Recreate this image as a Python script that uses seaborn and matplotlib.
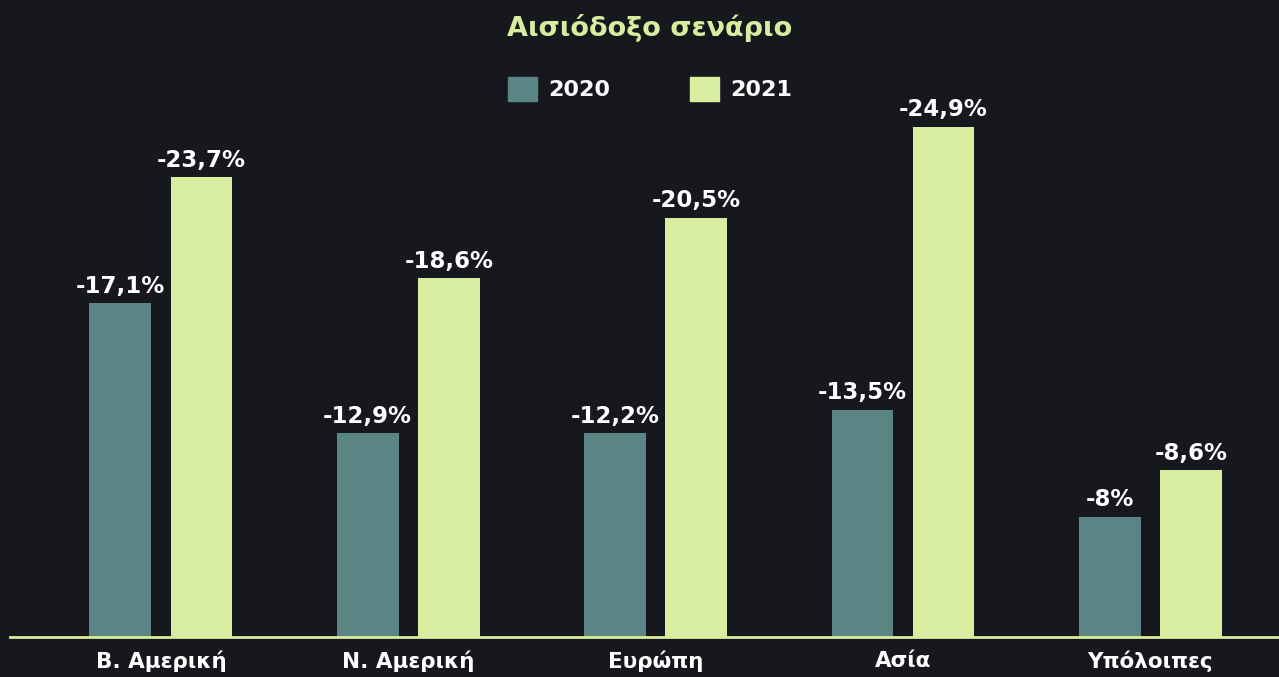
import pandas as pd
import numpy as np
import matplotlib.pyplot as plt
import seaborn as sns

# data
regions = ["Β. Αμερική", "Ν. Αμερική", "Ευρώπη", "Ασία", "Υπόλοιπες"]
years = ["2020", "2021"]
# bar heights as drawn in the picture (in % units)
h_2020 = [17.2, 10.5, 10.5, 11.7, 6.2]
h_2021 = [23.7, 18.5, 21.6, 26.3, 8.6]
# value labels as printed
lab_2020 = ["-17,1%", "-12,9%", "-12,2%", "-13,5%", "-8%"]
lab_2021 = ["-23,7%", "-18,6%", "-20,5%", "-24,9%", "-8,6%"]

bg = "#16181d"
c2020 = "#5a8585"
c2021 = "#d8ed9f"

df = pd.DataFrame({
    "region": regions * 2,
    "year": ["2020"] * 5 + ["2021"] * 5,
    "value": h_2020 + h_2021,
})

sns.set_style("dark")
plt.rcParams["font.family"] = ["DejaVu Sans"]

fig = plt.figure(figsize=(12.79, 6.77), dpi=100, facecolor=bg)
ax = fig.add_axes([10 / 1279, 40 / 677, 1269 / 1279, 537 / 677])
ax.set_facecolor(bg)

sns.barplot(data=df, x="region", y="value", hue="year", order=regions,
            hue_order=years, palette=[c2020, c2021], width=0.656, gap=0.24,
            saturation=1, linewidth=0, ax=ax, legend=False)

for cont, labs in zip(ax.containers, [lab_2020, lab_2021]):
    ax.bar_label(cont, labels=labs, padding=4, color="white",
                 fontsize=16.5, fontweight="bold")

ax.set_ylim(0, 537 / 19.4)
ax.set_xlim(-0.61, 4.52)
ax.set_xlabel("")
ax.set_ylabel("")
ax.set_yticks([])
ax.tick_params(axis="x", length=0, pad=10, colors="white")
for t in ax.get_xticklabels():
    t.set_fontsize(15.5)
    t.set_fontweight("bold")
    t.set_color("white")
for s in ["top", "right", "left"]:
    ax.spines[s].set_visible(False)
ax.spines["bottom"].set_color(c2021)
ax.spines["bottom"].set_linewidth(2)
ax.grid(False)

fig.text(0.508, 1 - 28 / 677, "Αισιόδοξο σενάριο", ha="center", va="center",
         color=c2021, fontsize=19.5, fontweight="bold")

handles = [plt.Rectangle((0, 0), 1, 1, color=c) for c in [c2020, c2021]]
leg = fig.legend(handles, years, loc="center", bbox_to_anchor=(0.508, 1 - 89 / 677),
                 ncol=2, frameon=False, handlelength=1.3, handleheight=1.3,
                 columnspacing=3.6, handletextpad=0.5,
                 prop={"weight": "bold", "size": 16})
for t in leg.get_texts():
    t.set_color("white")

fig.savefig("out.png", dpi=100, facecolor=bg)
